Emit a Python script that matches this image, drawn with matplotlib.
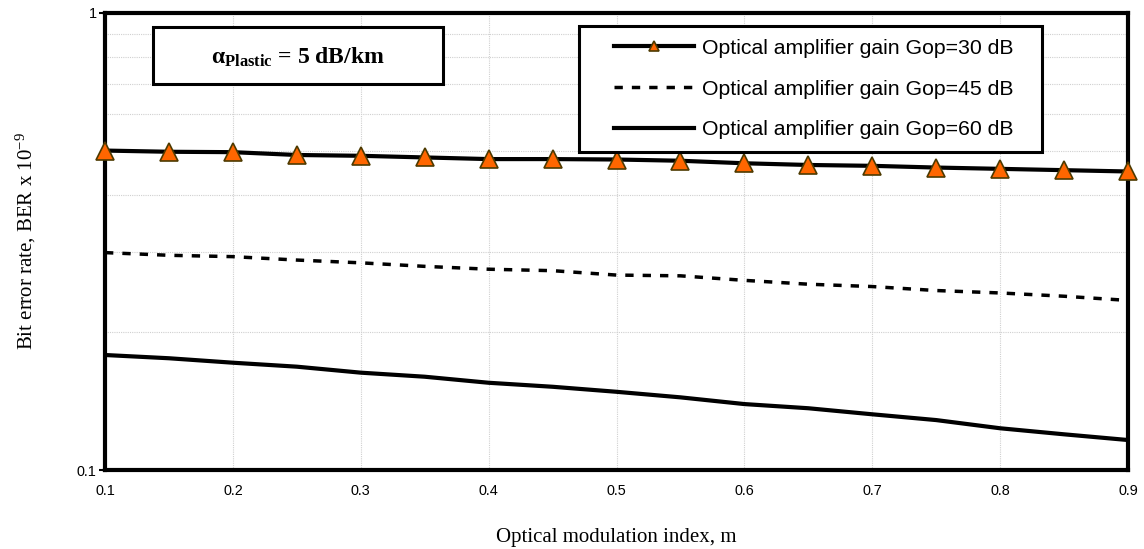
import matplotlib.pyplot as plt
from matplotlib.patches import Rectangle

plt.rcParams['font.family'] = ['Liberation Sans', 'DejaVu Sans']
plt.rcParams['mathtext.fontset'] = 'custom'
plt.rcParams['mathtext.rm'] = 'Liberation Serif'
plt.rcParams['mathtext.bf'] = 'Liberation Serif:bold'
plt.rcParams['mathtext.it'] = 'Liberation Serif:italic'
plt.rcParams['mathtext.default'] = 'regular'

# optical modulation index
m_index = [0.10, 0.15, 0.20, 0.25, 0.30, 0.35, 0.40, 0.45, 0.50,
           0.55, 0.60, 0.65, 0.70, 0.75, 0.80, 0.85, 0.90]

# BER (x 1e-9) for each optical amplifier gain
ber_gop30 = [0.500, 0.497, 0.496, 0.489, 0.487, 0.483, 0.479, 0.479, 0.478,
             0.475, 0.469, 0.465, 0.463, 0.459, 0.456, 0.453, 0.450]
ber_gop45 = [0.299, 0.295, 0.293, 0.288, 0.284, 0.279, 0.275, 0.273, 0.267,
             0.266, 0.260, 0.255, 0.252, 0.247, 0.244, 0.240, 0.235]
ber_gop60 = [0.1785, 0.1756, 0.1717, 0.1683, 0.1633, 0.1600, 0.1552, 0.1521, 0.1483,
             0.1442, 0.1394, 0.1365, 0.1324, 0.1286, 0.1234, 0.1197, 0.1163]

labels = ['Optical amplifier gain Gop=30 dB',
          'Optical amplifier gain Gop=45 dB',
          'Optical amplifier gain Gop=60 dB']

x_ticks = [0.1, 0.2, 0.3, 0.4, 0.5, 0.6, 0.7, 0.8, 0.9]
y_major = [0.1, 1]
y_minor = [0.2, 0.3, 0.4, 0.5, 0.6, 0.7, 0.8, 0.9]

W, H = 1144, 549
fig = plt.figure(figsize=(W / 100, H / 100), dpi=100)
ax = fig.add_axes([105 / W, 1 - 470 / H, 1023 / W, 457 / H])

l30, = ax.plot(m_index, ber_gop30, color='black', lw=3, marker='^', ms=13,
               mfc='#ff6600', mec='#4d3a00', mew=1.2, clip_on=False, zorder=5)
l45, = ax.plot(m_index, ber_gop45, color='black', lw=2.5, dashes=(2.4, 2.6),
               dash_capstyle='butt', zorder=4)
l60, = ax.plot(m_index, ber_gop60, color='black', lw=3, zorder=4)

ax.set_yscale('log')
ax.set_xlim(0.1, 0.9)
ax.set_ylim(0.1, 1)
ax.set_xticks(x_ticks, [f'{v:.1f}' for v in x_ticks])
ax.set_yticks(y_major, ['0.1', '1'])
ax.set_yticks(y_minor, minor=True)
ax.set_yticklabels([], minor=True)

ax.tick_params(axis='x', length=0, pad=10, labelsize=10.4)
ax.tick_params(axis='y', which='major', length=4, width=1.5, direction='out',
               pad=2, labelsize=10.4)
ax.tick_params(axis='y', which='minor', length=0)

ax.grid(True, which='major', axis='x', color='#d0d0d0', lw=0.8, ls=(0, (1, 1)))
ax.grid(True, which='both', axis='y', color='#d0d0d0', lw=0.8, ls=(0, (1, 1)))
ax.set_axisbelow(True)

for sp in ax.spines.values():
    sp.set_linewidth(3)
    sp.set_zorder(3)

ax.set_xlabel('Optical modulation index, m', family='Liberation Serif',
              fontsize=15, labelpad=21.5)
ax.set_ylabel('Bit error rate, BER x 10$^{-9}$', family='Liberation Serif',
              fontsize=15, labelpad=28)

# attenuation note in its own box
ax.add_patch(Rectangle((0.0469, 0.8446), 0.2835, 0.1248, transform=ax.transAxes,
                       fill=True, fc='white', ec='black', lw=2.2, zorder=6))
ax.text(0.1887, 0.9037, r'$\mathbf{\alpha}_{\mathbf{Plastic}}$ = 5 dB/km',
        transform=ax.transAxes, ha='center', va='center',
        family='Liberation Serif', fontweight='bold', fontsize=17, zorder=7)

# legend box drawn separately so the padding can be set freely
ax.add_patch(Rectangle((0.4633, 0.696), 0.4527, 0.2756, transform=ax.transAxes,
                       fill=True, fc='white', ec='black', lw=2.2, zorder=6))
leg = ax.legend([l30, l45, l60], labels, loc='upper left',
                bbox_to_anchor=(0.4888, 0.962), frameon=False, fontsize=15.3,
                handlelength=3.8, handletextpad=0.35, labelspacing=1.02,
                markerscale=0.6, borderaxespad=0)
leg.set_zorder(8)

fig.savefig('out.png', dpi=100)
